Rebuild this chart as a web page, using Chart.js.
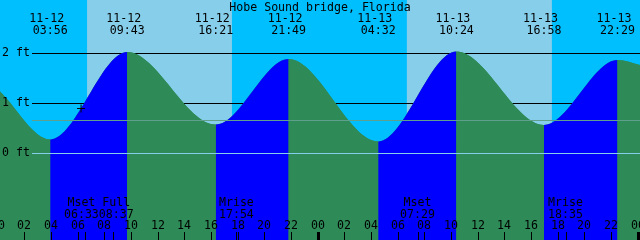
<!DOCTYPE html>
<html>
<head>
  <title>Hobe Sound bridge, Florida</title>
  <script src="https://cdn.jsdelivr.net/npm/chart.js"></script>
  <style>
    body { margin:0; background:#fff; }
    canvas { display:block; background:#00BFFF; }
  </style>
</head>
<body>
  <canvas id="tideChart" width="640" height="240"></canvas>
  <script>
    const title = 'Hobe Sound bridge, Florida';

    // x is hours counted from 11-12 00:00, y is feet
    const xMin = 0.17, xMax = 48.17;
    const yMin = -1.74, yMax = 3.06;

    const tideDates   = ['11-12', '11-12', '11-12', '11-12', '11-13', '11-13', '11-13', '11-13'];
    const tideTimes   = ['03:56', '09:43', '16:21', '21:49', '04:32', '10:24', '16:58', '22:29'];
    const tideHeights = [0.27, 2.02, 0.57, 1.88, 0.23, 2.03, 0.56, 1.86];
    const edgeHeights = [1.23, 1.76];          // curve height at the left and right edge

    const sunrise = ['11-12 06:42', '11-13 06:40'];
    const sunset  = ['11-12 17:34', '11-13 17:34'];

    const moonNames = ['Mset', 'Full', 'Mrise', 'Mset', 'Mrise'];
    const moonDates = ['11-12', '11-12', '11-12', '11-13', '11-13'];
    const moonTimes = ['06:33', '08:37', '17:54', '07:29', '18:35'];

    const nowTime = '11-12 06:15', nowHeight = 0.89;

    const depthLines  = [2, 1];
    const datumLevel  = 0;
    const meanLevel   = 0.65;
    const yTickValues = [2, 1, 0];
    const yTickLabels = ['2 ft', '1 ft', '0 ft'];

    const tickLabels = ['00','02','04','06','08','10','12','14','16','18','20','22',
                        '00','02','04','06','08','10','12','14','16','18','20','22','00'];

    const NIGHT = '#00BFFF', DAY = '#87CEEB', RISING = '#0000FF', FALLING = '#2E8B57';
    const FONT = '11.6px "DejaVu Sans Mono", "Liberation Mono", monospace';

    function hours(date, time) {
      const day = parseInt(date.split('-')[1], 10) - 12;
      const [hh, mm] = time.split(':').map(Number);
      return day * 24 + hh + mm / 60;
    }
    const stamp = s => hours(...s.split(' '));

    const tidePoints = [{ x: xMin, y: edgeHeights[0] }]
      .concat(tideTimes.map((t, i) => ({ x: hours(tideDates[i], t), y: tideHeights[i] })))
      .concat([{ x: xMax, y: edgeHeights[1] }]);

    const skyEdges = [xMin, stamp(sunrise[0]), stamp(sunset[0]), stamp(sunrise[1]), stamp(sunset[1]), xMax];
    const skyPoints = skyEdges.map(h => ({ x: h, y: yMax }));

    function hLines(chart, levels, color) {
      const { ctx, scales: { y }, chartArea: a } = chart;
      ctx.save();
      ctx.strokeStyle = color;
      ctx.lineWidth = 1;
      levels.forEach(v => {
        const py = Math.round(y.getPixelForValue(v)) + 0.5;
        ctx.beginPath();
        ctx.moveTo(32, py);
        ctx.lineTo(a.right, py);
        ctx.stroke();
      });
      ctx.restore();
    }

    const xtide = {
      id: 'xtide',
      afterDatasetDraw(chart, args) {
        if (args.index === 3) hLines(chart, depthLines, '#000');   // under the tide
      },
      afterDatasetsDraw(chart) {
        const { ctx, scales: { x, y }, chartArea: a } = chart;
        hLines(chart, [meanLevel], '#5FA08C');
        hLines(chart, [datumLevel], '#87CEEB');

        ctx.save();
        ctx.font = FONT;
        ctx.fillStyle = '#000';
        ctx.textBaseline = 'alphabetic';
        ctx.textAlign = 'center';
        ctx.fillText(title, (a.left + a.right) / 2, 10.5);

        // high / low labels
        tideTimes.forEach((t, i) => {
          const px = x.getPixelForValue(hours(tideDates[i], t));
          ctx.fillText(tideDates[i], px - 3.5, 21.8);
          ctx.fillText(t, px, 33.5);
        });

        // depth labels
        ctx.textAlign = 'left';
        ctx.textBaseline = 'middle';
        yTickValues.forEach((v, i) => ctx.fillText(yTickLabels[i], 2, y.getPixelForValue(v)));

        // hour labels and tick marks
        ctx.textAlign = 'center';
        ctx.textBaseline = 'alphabetic';
        tickLabels.forEach((lab, i) => {
          const h = i * 2;
          const px = Math.round(x.getPixelForValue(h));
          ctx.fillText(lab, px, 229.3);
          if (h % 24 === 0) ctx.fillRect(px - 1, 232, 3, 8);
          else ctx.fillRect(px, 232, 1, 8);
        });

        // moon events, overlapping ones packed side by side
        const items = moonNames.map((n, i) => ({
          name: n, time: moonTimes[i],
          px: x.getPixelForValue(hours(moonDates[i], moonTimes[i])),
          w: Math.max(ctx.measureText(n).width, ctx.measureText(moonTimes[i]).width)
        }));
        const groups = [];
        items.forEach(it => {
          const g = groups[groups.length - 1];
          if (g && it.px - it.w / 2 < g.center + g.w / 2) {
            g.items.push(it);
            g.w += it.w;
            g.center = g.items.reduce((s, o) => s + o.px, 0) / g.items.length;
          } else {
            groups.push({ items: [it], w: it.w, center: it.px });
          }
        });
        groups.forEach(g => {
          let left = g.center - g.w / 2;
          g.items.forEach(it => {
            ctx.fillText(it.name, left + it.w / 2, 205.5);
            ctx.fillText(it.time, left + it.w / 2, 217.5);
            left += it.w;
          });
        });
        items.forEach(it => ctx.fillRect(Math.round(it.px), 232, 1, 8));
        ctx.restore();
      }
    };

    const tideStyle = {
      data: tidePoints,
      cubicInterpolationMode: 'monotone',
      fill: 'start', backgroundColor: FALLING,
      borderColor: 'transparent', borderWidth: 0, pointRadius: 0
    };

    new Chart(document.getElementById('tideChart').getContext('2d'), {
      type: 'line',
      data: {
        datasets: [
          {
            data: [{ x: stamp(nowTime), y: nowHeight }],
            showLine: false, pointStyle: 'cross', pointRadius: 4,
            borderColor: '#000', borderWidth: 1, order: 1
          },
          // rising water blue, falling water green
          Object.assign({}, tideStyle, {
            segment: { backgroundColor: c => c.p1.parsed.y > c.p0.parsed.y ? RISING : FALLING },
            order: 2
          }),
          // plain copy underneath so segment joins leave no seam
          Object.assign({}, tideStyle, { order: 3 }),
          {
            data: skyPoints,
            fill: 'start', backgroundColor: NIGHT,
            borderColor: 'transparent', borderWidth: 0, pointRadius: 0,
            segment: { backgroundColor: c => c.p0DataIndex % 2 ? DAY : NIGHT },
            order: 4
          }
        ]
      },
      options: {
        responsive: false,
        animation: false,
        devicePixelRatio: 1,
        layout: { padding: 0, autoPadding: false },
        plugins: { legend: { display: false }, tooltip: { enabled: false } },
        scales: {
          x: { type: 'linear', min: xMin, max: xMax, display: false },
          y: { min: yMin, max: yMax, display: false }
        }
      },
      plugins: [xtide]
    });
  </script>
</body>
</html>
